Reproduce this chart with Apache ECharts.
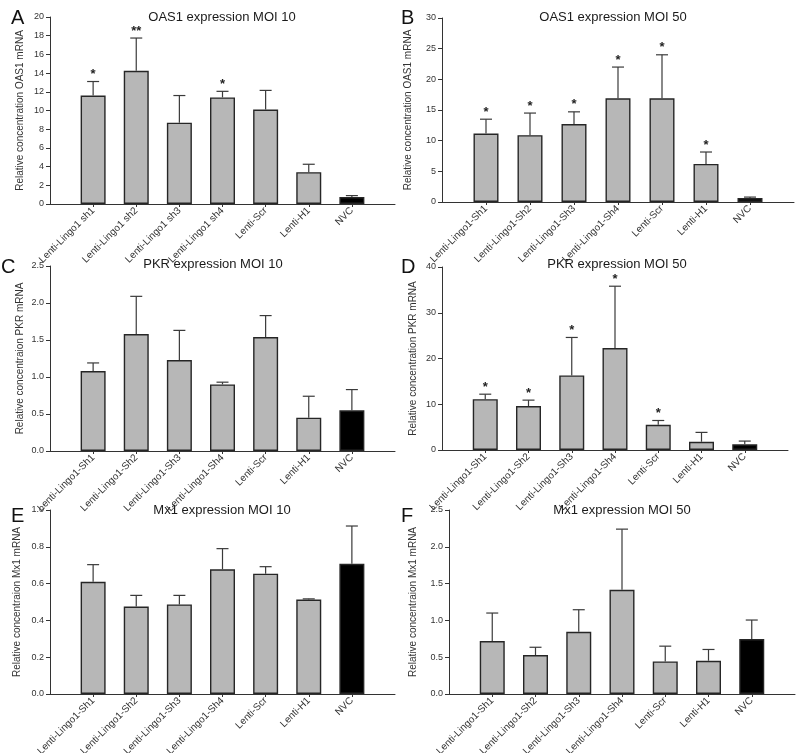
<!DOCTYPE html>
<html>
<head>
<meta charset="utf-8">
<script src="https://cdn.jsdelivr.net/npm/echarts@6/dist/echarts.min.js"></script>
<style>
html,body{margin:0;padding:0;background:#fff;}
#chart{width:800px;height:753px;}
</style>
</head>
<body>
<div id="chart"></div>
<script>
// ---- categories ----
const catsA = ['Lenti-Lingo1 sh1','Lenti-Lingo1 sh2','Lenti-Lingo1 sh3','Lenti-Lingo1 sh4','Lenti-Scr','Lenti-H1','NVC'];
const catsB = ['Lenti-Lingo1-Sh1','Lenti-Lingo1-Sh2','Lenti-Lingo1-Sh3','Lenti-Lingo1-Sh4','Lenti-Scr','Lenti-H1','NVC'];

// ---- A: OAS1 MOI 10 ----
const aMean = [11.6, 14.25, 8.7, 11.4, 10.1, 3.4, 0.75];
const aTop  = [13.1, 17.75, 11.6, 12.05, 12.15, 4.25, 0.9];
const aStar = [1, 2, 0, 1, 0, 0, 0];
// ---- B: OAS1 MOI 50 ----
const bMean = [11.15, 10.9, 12.7, 16.9, 16.9, 6.2, 0.65];
const bTop  = [13.5, 14.5, 14.7, 22.0, 24.0, 8.15, 0.8];
const bStar = [1, 1, 1, 1, 1, 1, 0];
// ---- C: PKR MOI 10 ----
const cMean = [1.08, 1.58, 1.23, 0.9, 1.54, 0.45, 0.55];
const cTop  = [1.19, 2.09, 1.63, 0.93, 1.83, 0.74, 0.83];
const cStar = [0, 0, 0, 0, 0, 0, 0];
// ---- D: PKR MOI 50 ----
const dMean = [11.1, 9.6, 16.3, 22.3, 5.5, 1.8, 1.25];
const dTop  = [12.2, 10.9, 24.6, 35.8, 6.45, 3.85, 1.95];
const dStar = [1, 1, 1, 1, 1, 0, 0];
// ---- E: Mx1 MOI 10 ----
const eMean = [0.61, 0.475, 0.487, 0.678, 0.654, 0.513, 0.708];
const eTop  = [0.703, 0.536, 0.536, 0.79, 0.692, 0.517, 0.913];
const eStar = [0, 0, 0, 0, 0, 0, 0];
// ---- F: Mx1 MOI 50 ----
const fMean = [0.72, 0.53, 0.845, 1.415, 0.443, 0.452, 0.746];
const fTop  = [1.1, 0.635, 1.145, 2.24, 0.65, 0.605, 1.005];
const fStar = [0, 0, 0, 0, 0, 0, 0];

// ---- axis settings ----
const yMax = [20, 30, 2.5, 40, 1.0, 2.5];
const yInt = [2, 5, 0.5, 10, 0.2, 0.5];
const yDec = [0, 0, 1, 0, 1, 1];
const yNames = [
  'Relative concentration OAS1 mRNA',
  'Relative concentration OAS1 mRNA',
  'Relative concentraion PKR mRNA',
  'Relative concentration PKR mRNA',
  'Relative concentraion Mx1 mRNA',
  'Relative concentraion Mx1 mRNA'
];
const titles = ['OAS1 expression MOI 10','OAS1 expression MOI 50','PKR expression MOI 10','PKR expression MOI 50','Mx1 expression MOI 10','Mx1 expression MOI 50'];
const letters = ['A','B','C','D','E','F'];

const panels = [
  {cats: catsA, mean: aMean, top: aTop, star: aStar},
  {cats: catsB, mean: bMean, top: bTop, star: bStar},
  {cats: catsB, mean: cMean, top: cTop, star: cStar},
  {cats: catsB, mean: dMean, top: dTop, star: dStar},
  {cats: catsB, mean: eMean, top: eTop, star: eStar},
  {cats: catsB, mean: fMean, top: fTop, star: fStar}
];

// layout (px)
const grids = [
  {left: 50,  top: 17,  width: 345, height: 187},
  {left: 442, top: 18,  width: 352, height: 184},
  {left: 50,  top: 266, width: 345, height: 185},
  {left: 442, top: 267, width: 346, height: 183},
  {left: 50,  top: 510, width: 345, height: 184},
  {left: 449, top: 510, width: 346, height: 184}
];
const nameGaps = [25, 29, 25, 24, 28, 31];
const titlePos = [[222, 17], [613, 17], [213, 264], [617, 264], [222, 510], [622, 510]];
const letterPos = [[11, 18], [401, 18], [1, 267], [401, 267], [11, 516], [401, 516]];

const FONT = '"Liberation Sans", Arial, sans-serif';
const AX = '#333';

const option = {
  animation: false,
  backgroundColor: '#fff',
  grid: grids.map(g => Object.assign({outerBoundsMode: 'none', containLabel: false}, g)),
  xAxis: [], yAxis: [], series: [],
  graphic: []
};

panels.forEach((p, i) => {
  const catData = [''].concat(p.cats).concat(['']);
  option.xAxis.push({
    type: 'category', gridIndex: i, data: catData, boundaryGap: false,
    axisLine: {lineStyle: {color: AX, width: 1}},
    axisTick: {show: true, length: 3, lineStyle: {color: AX},
      interval: (idx) => idx > 0 && idx < catData.length - 1},
    axisLabel: {rotate: 45, fontSize: 10, color: '#333', fontFamily: FONT, margin: 5,
      interval: (idx) => idx > 0 && idx < catData.length - 1},
    splitLine: {show: false}
  });
  option.yAxis.push({
    type: 'value', gridIndex: i, min: 0, max: yMax[i], interval: yInt[i],
    name: yNames[i], nameLocation: 'middle', nameRotate: 90, nameGap: nameGaps[i],
    nameTextStyle: {fontSize: 10, color: '#333', fontFamily: FONT},
    axisLine: {show: true, lineStyle: {color: AX, width: 1}},
    axisTick: {show: true, length: 4, lineStyle: {color: AX}},
    axisLabel: {fontSize: 9, color: '#333', fontFamily: FONT, margin: 6,
      formatter: (v) => v.toFixed(yDec[i])},
    splitLine: {show: false}
  });
  const barData = ['-'].concat(p.mean.map((v, k) => {
    const isNVC = p.cats[k] === 'NVC';
    return {value: v, itemStyle: {color: isNVC ? '#000' : '#b7b7b7'}};
  })).concat(['-']);
  option.series.push({
    type: 'bar', xAxisIndex: i, yAxisIndex: i, data: barData, barWidth: 25,
    itemStyle: {borderColor: '#262626', borderWidth: 1.4},
    z: 2
  });
  const errData = p.mean.map((v, k) => [k + 1, v, p.top[k], p.star[k]]);
  option.series.push({
    type: 'custom', xAxisIndex: i, yAxisIndex: i, data: errData, z: 3,
    renderItem: (params, api) => {
      const x = api.value(0);
      const p0 = api.coord([x, api.value(1)]);
      const p1 = api.coord([x, api.value(2)]);
      const n = api.value(3);
      const cap = 6;
      const children = [
        {type: 'line', shape: {x1: p0[0], y1: p0[1], x2: p1[0], y2: p1[1]},
          style: {stroke: '#3a3a3a', lineWidth: 1.2}},
        {type: 'line', shape: {x1: p1[0] - cap, y1: p1[1], x2: p1[0] + cap, y2: p1[1]},
          style: {stroke: '#3a3a3a', lineWidth: 1.2}}
      ];
      if (n > 0) {
        children.push({type: 'text', style: {x: p1[0], y: p1[1] - 7, text: '*'.repeat(n),
          textAlign: 'center', textVerticalAlign: 'middle', fontSize: 13, fontWeight: 'bold',
          fill: '#222', fontFamily: FONT}});
      }
      return {type: 'group', children: children};
    }
  });
  option.graphic.push({
    type: 'text', style: {x: titlePos[i][0], y: titlePos[i][1], text: titles[i],
      textAlign: 'center', textVerticalAlign: 'middle', fontSize: 13, fill: '#1a1a1a', fontFamily: FONT}
  });
  option.graphic.push({
    type: 'text', style: {x: letterPos[i][0], y: letterPos[i][1], text: letters[i],
      textAlign: 'left', textVerticalAlign: 'middle', fontSize: 20, fill: '#111', fontFamily: FONT}
  });
});

const chart = echarts.init(document.getElementById('chart'), null, {renderer: 'canvas'});
chart.setOption(option);
</script>
</body>
</html>
